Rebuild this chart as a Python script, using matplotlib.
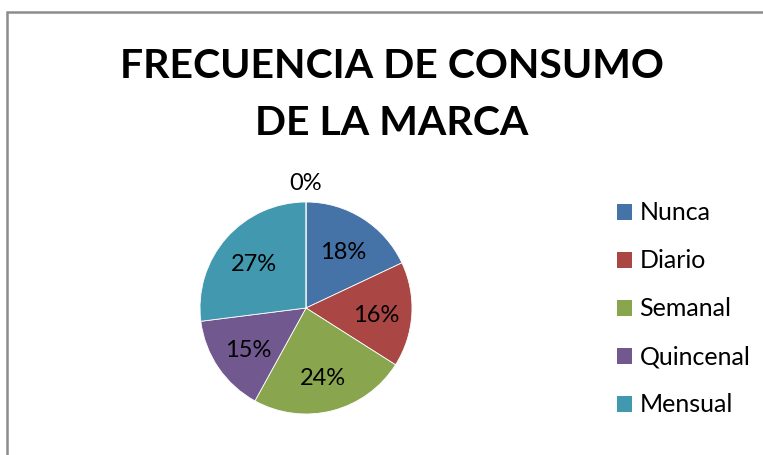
import matplotlib
matplotlib.use("Agg")
import matplotlib.pyplot as plt
from matplotlib.patches import Rectangle, Patch
import numpy as np

categories = ["Nunca", "Diario", "Semanal", "Quincenal", "Mensual", ""]
values = [18, 16, 24, 15, 27, 0]
colors = ["#4572A7", "#AA4643", "#89A54E", "#71588F", "#4198AF", "#DB843D"]
title = "FRECUENCIA DE CONSUMO\nDE LA MARCA"

W, H = 763, 455
fig = plt.figure(figsize=(W / 100, H / 100), dpi=100)
fig.patch.set_facecolor("white")

# chart border (extends past right/bottom edges)
fig.patches.append(Rectangle((7 / W, -0.1), 1.2, (H - 12) / H + 0.1,
                             transform=fig.transFigure, fill=False,
                             edgecolor="#8C8C8C", linewidth=1.8))

FONT = "Lato"
fig.text(392 / W, 1 - 95 / H, title, ha="center", va="center",
         fontsize=29.5, fontweight="bold", family=FONT, linespacing=1.68)

cx, cy, r = 306, 308, 106
half = 140
ax = fig.add_axes([(cx - half) / W, (H - cy - half) / H, 2 * half / W, 2 * half / H])

wedges, _ = ax.pie(values, colors=colors, startangle=90, counterclock=False,
                   radius=1.0, wedgeprops=dict(edgecolor="white", linewidth=0.6))
ax.set_xlim(-half / r, half / r)
ax.set_ylim(-half / r, half / r)
ax.axis("off")

total = sum(values)
start = 90.0
for v in values:
    ang = start - 360.0 * v / total / 2
    start -= 360.0 * v / total
    d = 1.2 if v == 0 else 0.66
    ax.text(d * np.cos(np.radians(ang)), d * np.sin(np.radians(ang)) - 0.03,
            f"{v / total * 100:.0f}%", ha="center", va="center",
            fontsize=17, family=FONT)

handles = [Patch(facecolor=c, edgecolor="none") for c in colors[:5]]
fig.legend(handles, categories[:5], loc="upper left",
           bbox_to_anchor=(594 / W, 1 - 179 / H), frameon=False,
           prop=dict(family=FONT, size=18), handlelength=0.6, handleheight=0.6,
           handletextpad=0.32, labelspacing=1.0)

fig.savefig("out.png", dpi=100)
